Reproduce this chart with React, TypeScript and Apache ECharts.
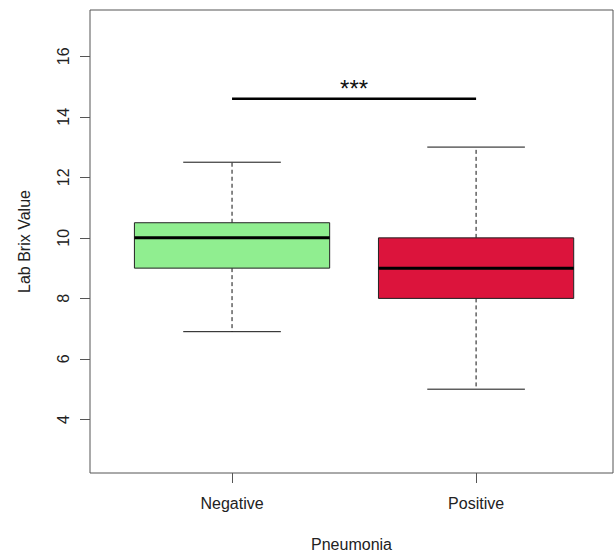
import React, { useEffect, useRef } from "react";
import * as echarts from "echarts";

const categories = ["Negative", "Positive"];
const lowWhisker = [6.9, 5.0];
const q1 = [9.0, 8.0];
const median = [10.0, 9.0];
const q3 = [10.5, 10.0];
const highWhisker = [12.5, 13.0];
const boxColors = ["#90EE90", "#DC143C"];
const yTicks = [4, 6, 8, 10, 12, 14, 16];
const xTicks = [1, 2];
const sigFrom = [1];
const sigTo = [2];
const sigLineY = [14.6];
const sigTextY = [14.95];
const sigLabel = ["***"];

const FONT = "Liberation Sans, Arial, sans-serif";

export default function App() {
  const ref = useRef<HTMLDivElement>(null);
  useEffect(() => {
    if (!ref.current) return;
    const chart = echarts.init(ref.current, null, { renderer: "svg" });
    const boxData = categories.map((c, i) => [
      xTicks[i],
      lowWhisker[i],
      q1[i],
      median[i],
      q3[i],
      highWhisker[i],
    ]);
    const sigData = sigFrom.map((f, i) => [f, sigTo[i], sigLineY[i], sigTextY[i]]);
    chart.setOption({
      animation: false,
      backgroundColor: "#ffffff",
      grid: {
        left: 90,
        right: 1,
        top: 10,
        bottom: 78,
        show: true,
        borderColor: "#555555",
        borderWidth: 1,
        backgroundColor: "transparent",
      },
      xAxis: {
        type: "value",
        min: 0.418,
        max: 2.561,
        name: "Pneumonia",
        nameLocation: "middle",
        nameGap: 63,
        nameTextStyle: { fontFamily: FONT, fontSize: 16, color: "#222" },
        axisLine: { show: false },
        splitLine: { show: false },
        axisTick: {
          show: true,
          length: 10,
          customValues: xTicks,
          lineStyle: { color: "#555", width: 1 },
        },
        axisLabel: {
          customValues: xTicks,
          margin: 22,
          fontFamily: FONT,
          fontSize: 16,
          color: "#222",
          formatter: (v: number) => categories[Math.round(v) - 1] ?? "",
        },
      },
      yAxis: {
        type: "value",
        min: 2.23,
        max: 17.53,
        name: "Lab Brix Value",
        nameLocation: "middle",
        nameRotate: 90,
        nameGap: 58,
        nameTextStyle: { fontFamily: FONT, fontSize: 16, color: "#222" },
        axisLine: { show: false },
        splitLine: { show: false },
        axisTick: {
          show: true,
          length: 10,
          customValues: yTicks,
          lineStyle: { color: "#555", width: 1 },
        },
        axisLabel: {
          customValues: yTicks,
          rotate: 90,
          margin: 19,
          fontFamily: FONT,
          fontSize: 16,
          color: "#222",
        },
      },
      series: [
        {
          type: "custom",
          data: boxData,
          encode: { x: 0, y: [1, 2, 3, 4, 5] },
          renderItem: (params: any, api: any) => {
            const x = api.value(0);
            const lo = api.value(1);
            const a = api.value(2);
            const m = api.value(3);
            const b = api.value(4);
            const hi = api.value(5);
            const tl = api.coord([x - 0.4, b]);
            const br = api.coord([x + 0.4, a]);
            const ml = api.coord([x - 0.4, m]);
            const mr = api.coord([x + 0.4, m]);
            const cTop = api.coord([x, b]);
            const cHi = api.coord([x, hi]);
            const cBot = api.coord([x, a]);
            const cLo = api.coord([x, lo]);
            const capHiL = api.coord([x - 0.2, hi]);
            const capHiR = api.coord([x + 0.2, hi]);
            const capLoL = api.coord([x - 0.2, lo]);
            const capLoR = api.coord([x + 0.2, lo]);
            const dash = { stroke: "#111", lineWidth: 1, lineDash: [4, 3] };
            const solid = { stroke: "#111", lineWidth: 1 };
            return {
              type: "group",
              children: [
                {
                  type: "line",
                  shape: { x1: cTop[0], y1: cTop[1], x2: cHi[0], y2: cHi[1] },
                  style: dash,
                },
                {
                  type: "line",
                  shape: { x1: cBot[0], y1: cBot[1], x2: cLo[0], y2: cLo[1] },
                  style: dash,
                },
                {
                  type: "line",
                  shape: { x1: capHiL[0], y1: capHiL[1], x2: capHiR[0], y2: capHiR[1] },
                  style: solid,
                },
                {
                  type: "line",
                  shape: { x1: capLoL[0], y1: capLoL[1], x2: capLoR[0], y2: capLoR[1] },
                  style: solid,
                },
                {
                  type: "rect",
                  shape: {
                    x: tl[0],
                    y: tl[1],
                    width: br[0] - tl[0],
                    height: br[1] - tl[1],
                  },
                  style: {
                    fill: boxColors[params.dataIndex],
                    stroke: "#222",
                    lineWidth: 1,
                  },
                },
                {
                  type: "line",
                  shape: { x1: ml[0], y1: ml[1], x2: mr[0], y2: mr[1] },
                  style: { stroke: "#000", lineWidth: 3 },
                },
              ],
            };
          },
        },
        {
          type: "custom",
          data: sigData,
          encode: { x: [0, 1], y: [2, 3] },
          renderItem: (params: any, api: any) => {
            const p1 = api.coord([api.value(0), api.value(2)]);
            const p2 = api.coord([api.value(1), api.value(2)]);
            const t = api.coord([(api.value(0) + api.value(1)) / 2, api.value(3)]);
            return {
              type: "group",
              children: [
                {
                  type: "line",
                  shape: { x1: p1[0], y1: p1[1], x2: p2[0], y2: p2[1] },
                  style: { stroke: "#000", lineWidth: 2.5 },
                },
                {
                  type: "text",
                  x: t[0],
                  y: t[1],
                  style: {
                    text: sigLabel[params.dataIndex],
                    fontFamily: FONT,
                    fontSize: 24,
                    fill: "#111",
                    align: "center",
                    verticalAlign: "middle",
                  },
                },
              ],
            };
          },
        },
      ],
    });
    return () => chart.dispose();
  }, []);
  return (
    <div
      ref={ref}
      style={{ position: "fixed", left: 0, top: 0, width: 614, height: 557 }}
    />
  );
}
